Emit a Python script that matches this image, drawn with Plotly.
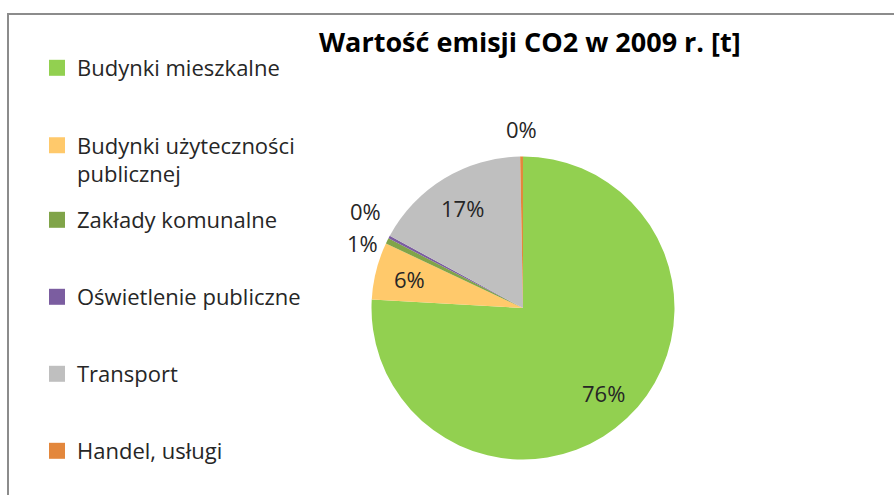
import math
import plotly.graph_objects as go

# Emission shares by sector (percent of total CO2, 2009)
sectors = [
    "Budynki mieszkalne",
    "Budynki użyteczności<br>publicznej",
    "Zakłady komunalne",
    "Oświetlenie publiczne",
    "Transport",
    "Handel, usługi",
]
shares = [75.9, 6.1, 0.6, 0.3, 16.8, 0.3]
colors = ["#92D050", "#FFC96B", "#80A449", "#7B5DA0", "#BFBFBF", "#E3873C"]

W, H = 894, 495
FONT = "Open Sans"
TEXT = "#262626"

# Pie geometry in pixels
CX, CY, R = 523, 308, 151.5
IN_R, OUT_R, MIN_GAP = 0.77 * R, 1.18 * R, 32


def to_paper(px, py):
    return px / W, 1 - py / H


fig = go.Figure()

fig.add_trace(go.Pie(
    labels=sectors,
    values=shares,
    sort=False,
    direction="clockwise",
    rotation=0,
    marker=dict(colors=colors, line=dict(width=0)),
    textinfo="none",
    domain=dict(x=[(CX - R) / W, (CX + R) / W],
                y=[1 - (CY + R) / H, 1 - (CY - R) / H]),
    showlegend=False,
    hoverinfo="label+percent",
))

# Percentage labels: big slices inside, thin ones outside the rim
total = sum(shares)
labels = []
start = 0.0
for s in shares:
    frac = s / total
    mid = 2 * math.pi * (start + frac / 2)
    start += frac
    inside = frac >= 0.03
    r = IN_R if inside else OUT_R
    labels.append(dict(
        text=f"{round(100 * frac)}%",
        x=CX + r * math.sin(mid),
        y=CY - r * math.cos(mid),
        inside=inside,
    ))

# Spread outside labels that would sit on top of each other
outside = sorted([l for l in labels if not l["inside"]], key=lambda l: l["y"])
for a, b in zip(outside, outside[1:]):
    if abs(a["x"] - b["x"]) < 40 and b["y"] - a["y"] < MIN_GAP:
        m = (a["y"] + b["y"]) / 2
        a["y"], b["y"] = m - MIN_GAP / 2, m + MIN_GAP / 2

annotations = []
for l in labels:
    px, py = to_paper(l["x"], l["y"])
    annotations.append(dict(
        text=l["text"], x=px, y=py, xref="paper", yref="paper",
        xanchor="center", yanchor="middle",
        showarrow=False, font=dict(family=FONT, size=22, color=TEXT),
    ))

annotations.append(dict(
    text="<b>Wartość emisji CO2 w 2009 r. [t]</b>",
    x=530 / W, y=1 - 42 / H, xref="paper", yref="paper",
    xanchor="center", yanchor="middle",
    showarrow=False, font=dict(family=FONT, size=27, color="#000000"),
))

# One legend per entry so each row can sit at its own height
legend_rows = [68, 160, 220, 297, 374, 451]
legend_layout = {}
for i, (name, col, row) in enumerate(zip(sectors, colors, legend_rows)):
    key = "legend" if i == 0 else f"legend{i + 1}"
    fig.add_trace(go.Scatter(
        x=[None], y=[None], mode="markers", name=name, legend=key,
        marker=dict(symbol="square", size=16, color=col),
    ))
    legend_layout[key] = dict(
        x=37 / W, y=1 - row / H, xanchor="left", yanchor="middle",
        font=dict(family=FONT, size=22, color=TEXT),
        valign="top", bgcolor="rgba(0,0,0,0)",
    )

fig.update_layout(
    width=W, height=H,
    margin=dict(l=0, r=0, t=0, b=0),
    paper_bgcolor="white", plot_bgcolor="white",
    xaxis=dict(visible=False), yaxis=dict(visible=False),
    annotations=annotations,
    shapes=[dict(
        type="rect", xref="paper", yref="paper",
        x0=8 / W, x1=1.02, y0=-0.02, y1=1 - 14 / H,
        line=dict(color="#8C8C8C", width=2), fillcolor="rgba(0,0,0,0)",
    )],
    **legend_layout,
)

fig.write_html("out.html")
